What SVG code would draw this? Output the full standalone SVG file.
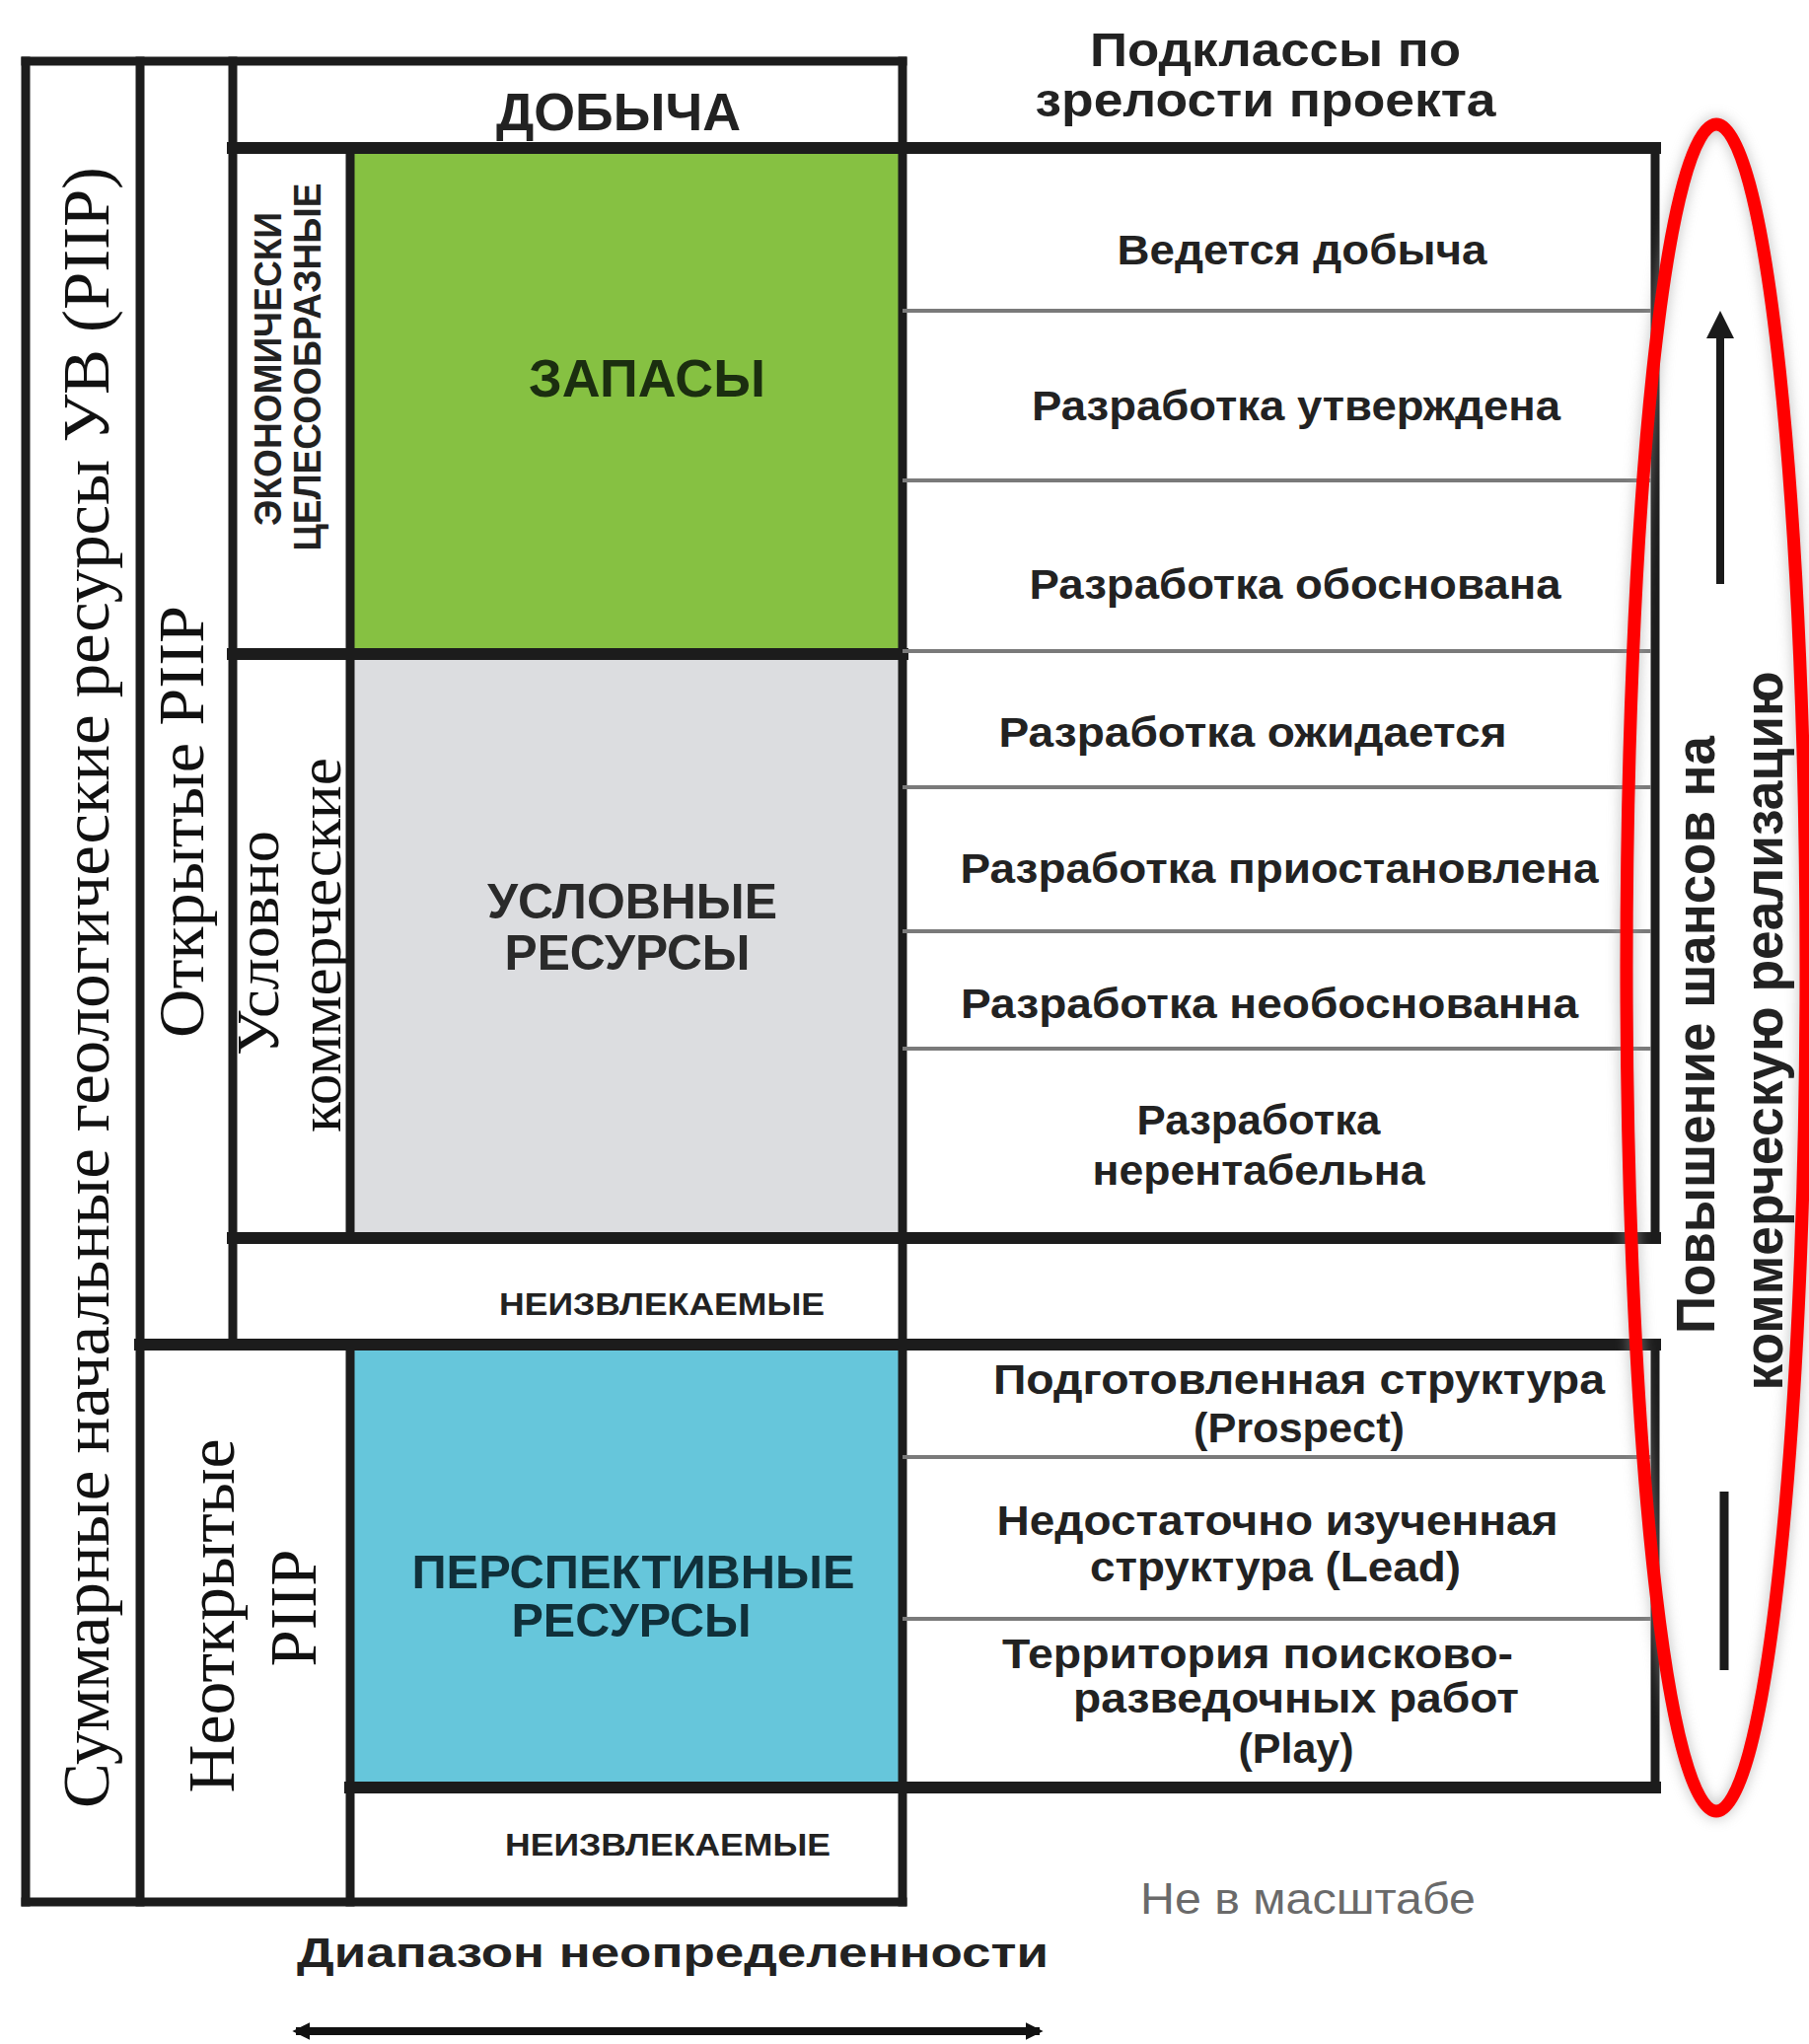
<svg xmlns="http://www.w3.org/2000/svg" width="1834" height="2072" viewBox="0 0 1834 2072">
<style>
.ln{stroke:#1c1c1c;stroke-width:9;fill:none;stroke-linecap:square}
.thk{stroke:#1c1c1c;stroke-width:12;fill:none;stroke-linecap:square}
.row{stroke:#7a7a7a;stroke-width:4;fill:none}
.sb{font-family:"Liberation Sans",Arial,sans-serif;font-weight:bold;fill:#222}
.rt{font-size:42px}
.sr{font-family:"Liberation Serif","Times New Roman",serif;fill:#111}
</style>
<defs>
<marker id="ah" viewBox="0 0 10 10" refX="8" refY="5" markerWidth="18" markerHeight="22" markerUnits="userSpaceOnUse" orient="auto-start-reverse">
<path d="M0,0 L10,5 L0,10 Z" fill="#111"/>
</marker>
<filter id="shadow" x="-50%" y="-10%" width="200%" height="120%">
<feGaussianBlur stdDeviation="7"/>
</filter>
</defs>
<rect width="1834" height="2072" fill="#fff"/>

<!-- fills -->
<g id="production">
<rect x="236" y="62" width="679" height="88" fill="#fff"/>
<text class="sb" x="627" y="132" font-size="54" text-anchor="middle" textLength="248" lengthAdjust="spacingAndGlyphs">ДОБЫЧА</text>
</g>
<g id="reserves">
<rect x="355" y="150" width="560" height="513" fill="#86c142"/>
<text class="sb" x="656" y="402" font-size="53" text-anchor="middle" style="fill:#1b2e10" textLength="240" lengthAdjust="spacingAndGlyphs">ЗАПАСЫ</text>
</g>
<g id="contingent">
<rect x="355" y="663" width="560" height="592" fill="#dcdde0"/>
<text class="sb" x="641" y="931" font-size="50" text-anchor="middle" style="fill:#2a2a2a" textLength="294" lengthAdjust="spacingAndGlyphs">УСЛОВНЫЕ</text>
<text class="sb" x="636" y="983" font-size="50" text-anchor="middle" style="fill:#2a2a2a" textLength="249" lengthAdjust="spacingAndGlyphs">РЕСУРСЫ</text>
</g>
<g id="unrecoverable-1">
<text class="sb" x="671" y="1333" font-size="31" text-anchor="middle" textLength="330" lengthAdjust="spacingAndGlyphs">НЕИЗВЛЕКАЕМЫЕ</text>
</g>
<g id="prospective">
<rect x="355" y="1363" width="560" height="449" fill="#66c6db"/>
<text class="sb" x="642" y="1610" font-size="48" text-anchor="middle" style="fill:#10303a" textLength="449" lengthAdjust="spacingAndGlyphs">ПЕРСПЕКТИВНЫЕ</text>
<text class="sb" x="640" y="1659" font-size="48" text-anchor="middle" style="fill:#10303a" textLength="243" lengthAdjust="spacingAndGlyphs">РЕСУРСЫ</text>
</g>
<g id="unrecoverable-2">
<text class="sb" x="677" y="1881" font-size="31" text-anchor="middle" textLength="330" lengthAdjust="spacingAndGlyphs">НЕИЗВЛЕКАЕМЫЕ</text>
</g>

<!-- left column labels -->
<g id="total-piip">
<text class="sr" transform="translate(110,1001) rotate(-90)" font-size="68" text-anchor="middle" textLength="1664" lengthAdjust="spacingAndGlyphs">Суммарные начальные геологические ресурсы УВ (PIIP)</text>
</g>
<g id="discovered-piip">
<text class="sr" transform="translate(206,833) rotate(-90)" font-size="66" text-anchor="middle" textLength="438" lengthAdjust="spacingAndGlyphs">Открытые PIIP</text>
</g>
<g id="undiscovered-piip">
<text class="sr" transform="translate(237,1638) rotate(-90)" font-size="68" text-anchor="middle" textLength="359" lengthAdjust="spacingAndGlyphs">Неоткрытые</text>
<text class="sr" transform="translate(320,1630) rotate(-90)" font-size="68" text-anchor="middle" textLength="119" lengthAdjust="spacingAndGlyphs">PIIP</text>
</g>
<g id="commercial">
<text class="sb" transform="translate(285,374) rotate(-90)" font-size="38" text-anchor="middle" textLength="318" lengthAdjust="spacingAndGlyphs">ЭКОНОМИЧЕСКИ</text>
<text class="sb" transform="translate(325,372) rotate(-90)" font-size="38" text-anchor="middle" textLength="373" lengthAdjust="spacingAndGlyphs">ЦЕЛЕСООБРАЗНЫЕ</text>
</g>
<g id="sub-commercial">
<text class="sr" transform="translate(282,956) rotate(-90)" font-size="62" text-anchor="middle" textLength="228" lengthAdjust="spacingAndGlyphs">Условно</text>
<text class="sr" transform="translate(345,958) rotate(-90)" font-size="62" text-anchor="middle" textLength="380" lengthAdjust="spacingAndGlyphs">коммерческие</text>
</g>

<!-- grid lines -->
<g id="frame">
<line class="ln" x1="26" y1="62" x2="915" y2="62"/>
<line class="ln" x1="26" y1="62" x2="26" y2="1928"/>
<line class="ln" x1="26" y1="1928" x2="915" y2="1928"/>
<line class="ln" x1="142" y1="62" x2="142" y2="1928"/>
<line class="ln" x1="236" y1="62" x2="236" y2="1363"/>
<line class="ln" x1="355" y1="150" x2="355" y2="1255"/>
<line class="ln" x1="355" y1="1363" x2="355" y2="1928"/>
<line class="ln" x1="915" y1="62" x2="915" y2="1928"/>
<line class="thk" x1="236" y1="150" x2="1678" y2="150"/>
<line class="thk" x1="236" y1="663" x2="915" y2="663"/>
<line class="thk" x1="236" y1="1255" x2="1678" y2="1255"/>
<line class="thk" x1="142" y1="1363" x2="1678" y2="1363"/>
<line class="thk" x1="355" y1="1812" x2="1678" y2="1812"/>
<line class="ln" x1="1678" y1="150" x2="1678" y2="1255"/>
<line class="ln" x1="1678" y1="1363" x2="1678" y2="1812"/>
<line class="row" x1="915" y1="315" x2="1674" y2="315"/>
<line class="row" x1="915" y1="487" x2="1674" y2="487"/>
<line class="row" x1="915" y1="660" x2="1674" y2="660"/>
<line class="row" x1="915" y1="798" x2="1674" y2="798"/>
<line class="row" x1="915" y1="944" x2="1674" y2="944"/>
<line class="row" x1="915" y1="1063" x2="1674" y2="1063"/>
<line class="row" x1="915" y1="1477" x2="1674" y2="1477"/>
<line class="row" x1="915" y1="1641" x2="1674" y2="1641"/>
</g>

<!-- right table texts -->
<g id="subclasses-title">
<text class="sb" x="1293" y="67" font-size="48" text-anchor="middle" textLength="376" lengthAdjust="spacingAndGlyphs">Подклассы по</text>
<text class="sb" x="1283" y="118" font-size="48" text-anchor="middle" textLength="467" lengthAdjust="spacingAndGlyphs">зрелости проекта</text>
</g>
<g id="on-production"><text class="sb rt" x="1320" y="268" text-anchor="middle" textLength="375" lengthAdjust="spacingAndGlyphs">Ведется добыча</text></g>
<g id="approved"><text class="sb rt" x="1314" y="426" text-anchor="middle" textLength="536" lengthAdjust="spacingAndGlyphs">Разработка утверждена</text></g>
<g id="justified"><text class="sb rt" x="1313" y="607" text-anchor="middle" textLength="539" lengthAdjust="spacingAndGlyphs">Разработка обоснована</text></g>
<g id="pending"><text class="sb rt" x="1270" y="757" text-anchor="middle" textLength="515" lengthAdjust="spacingAndGlyphs">Разработка ожидается</text></g>
<g id="on-hold"><text class="sb rt" x="1297" y="895" text-anchor="middle" textLength="647" lengthAdjust="spacingAndGlyphs">Разработка приостановлена</text></g>
<g id="unclarified"><text class="sb rt" x="1287" y="1032" text-anchor="middle" textLength="626" lengthAdjust="spacingAndGlyphs">Разработка необоснованна</text></g>
<g id="not-viable">
<text class="sb rt" x="1276" y="1150" text-anchor="middle" textLength="247" lengthAdjust="spacingAndGlyphs">Разработка</text>
<text class="sb rt" x="1276" y="1201" text-anchor="middle" textLength="337" lengthAdjust="spacingAndGlyphs">нерентабельна</text>
</g>
<g id="prospect">
<text class="sb rt" x="1317" y="1413" text-anchor="middle" textLength="620" lengthAdjust="spacingAndGlyphs">Подготовленная структура</text>
<text class="sb rt" x="1317" y="1462" text-anchor="middle" textLength="214" lengthAdjust="spacingAndGlyphs">(Prospect)</text>
</g>
<g id="lead">
<text class="sb rt" x="1295" y="1556" text-anchor="middle" textLength="569" lengthAdjust="spacingAndGlyphs">Недостаточно изученная</text>
<text class="sb rt" x="1293" y="1603" text-anchor="middle" textLength="376" lengthAdjust="spacingAndGlyphs">структура (Lead)</text>
</g>
<g id="play">
<text class="sb rt" x="1275" y="1691" text-anchor="middle" textLength="518" lengthAdjust="spacingAndGlyphs">Территория поисково-</text>
<text class="sb rt" x="1314" y="1736" text-anchor="middle" textLength="452" lengthAdjust="spacingAndGlyphs">разведочных работ</text>
<text class="sb rt" x="1314" y="1787" text-anchor="middle" textLength="117" lengthAdjust="spacingAndGlyphs">(Play)</text>
</g>

<g id="not-to-scale">
<text x="1326" y="1940" font-family="'Liberation Sans',Arial,sans-serif" font-size="44" fill="#6a6a6a" text-anchor="middle" textLength="340" lengthAdjust="spacingAndGlyphs">Не в масштабе</text>
</g>
<g id="uncertainty-label">
<text class="sb" x="682" y="1994" font-size="43" text-anchor="middle" textLength="762" lengthAdjust="spacingAndGlyphs">Диапазон неопределенности</text>
</g>

<!-- chance of commerciality -->
<g id="chance-oval">
<ellipse cx="1740" cy="981" rx="91" ry="855" fill="none" stroke="#9a9a9a" stroke-width="14" filter="url(#shadow)" opacity="0.6"/>
<ellipse cx="1740" cy="981" rx="91" ry="855" fill="none" stroke="#ff0000" stroke-width="13"/>
</g>
<g id="chance-label">
<text class="sb" transform="translate(1738,1049) rotate(-90)" font-size="55" text-anchor="middle" textLength="606" lengthAdjust="spacingAndGlyphs">Повышение шансов на</text>
<text class="sb" transform="translate(1807,1045) rotate(-90)" font-size="55" text-anchor="middle" textLength="729" lengthAdjust="spacingAndGlyphs">коммерческую реализацию</text>
</g>

<g id="connectors">
<line x1="1744" y1="592" x2="1744" y2="338" stroke="#1a1a1a" stroke-width="8"/>
<polygon points="1744,315 1730,343 1758,343" fill="#1a1a1a"/>
<line x1="1748" y1="1512" x2="1748" y2="1693" stroke="#1a1a1a" stroke-width="9"/>
<line x1="300" y1="2059" x2="1054" y2="2059" stroke="#111" stroke-width="8" marker-start="url(#ah)" marker-end="url(#ah)"/>
</g>
</svg>
